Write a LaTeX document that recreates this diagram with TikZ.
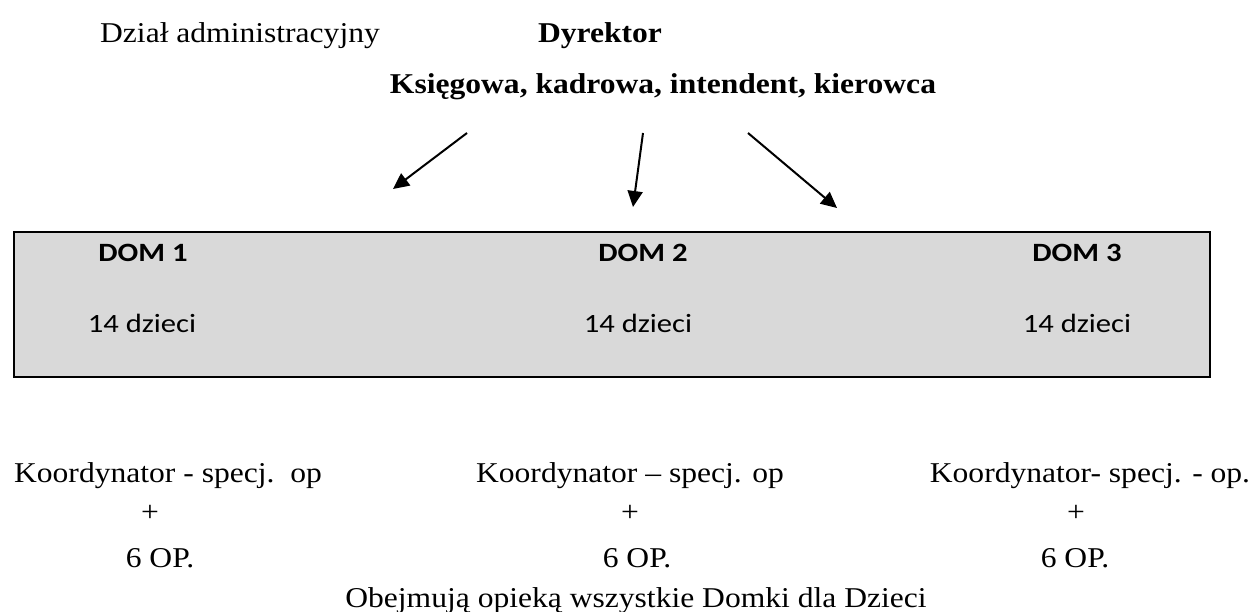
\documentclass[tikz,border=0pt]{standalone}
\usepackage{fontspec}
\setmainfont{Liberation Serif}
\newfontfamily\calfont{Carlito}
\usetikzlibrary{arrows.meta}
\definecolor{boxgray}{HTML}{D9D9D9}
\newcommand{\tnrsize}{\fontsize{28.7}{34}\selectfont}
\newcommand{\calsize}{\calfont\fontsize{26.4}{32}\selectfont}
\newcommand{\sx}[1]{\scalebox{1.1}[1]{#1}}
\newcommand{\sxc}[1]{\scalebox{1.16}[1]{#1}}
\tikzset{
  tlabel/.style={font=\tnrsize, inner sep=0pt, anchor=base},
  dlabel/.style={font=\calsize, inner sep=0pt, anchor=base},
  arr/.style={line width=2pt, -{Triangle[length=16pt,width=15pt]}},
  housebox/.style={draw, line width=2pt, fill=boxgray, inner sep=0pt, anchor=north west}
}
\begin{document}
\begin{tikzpicture}[x=1pt,y=-1pt]
\useasboundingbox (0,0) rectangle (1253,612);
% top texts
\node[tlabel] (dzial) at (240,43) {\sx{Dział administracyjny}};
\node[tlabel] (dyr) at (600,43) {\sx{\bfseries Dyrektor}};
\node[tlabel] (ksieg) at (663,94) {\sx{\bfseries Księgowa, kadrowa, intendent, kierowca}};
% box
\node[housebox, minimum width=1196pt, minimum height=145pt] (box) at (13,231) {};
\node[dlabel] (dom1) at (143,262) {\sxc{\bfseries DOM 1}};
\node[dlabel] (dom2) at (643,262) {\sxc{\bfseries DOM 2}};
\node[dlabel] (dom3) at (1077,262) {\sxc{\bfseries DOM 3}};
\node[dlabel] (dz1) at (142,333) {\sxc{14 dzieci}};
\node[dlabel] (dz2) at (638,333) {\sxc{14 dzieci}};
\node[dlabel] (dz3) at (1077,333) {\sxc{14 dzieci}};
% arrows
\coordinate (a1s) at (467,133); \coordinate (a1e) at (393,189);
\coordinate (a2s) at (643,133); \coordinate (a2e) at (633,207);
\coordinate (a3s) at (748,133); \coordinate (a3e) at (837,208);
\draw[arr] (a1s) -- (a1e);
\draw[arr] (a2s) -- (a2e);
\draw[arr] (a3s) -- (a3e);
% bottom columns
\node[tlabel] (k1) at (168,482) {\sx{Koordynator - specj.\ \ op}};
\node[tlabel] (p1) at (150,521) {\sx{+}};
\node[tlabel] (o1) at (160,567) {\sx{6 OP.}};
\node[tlabel] (k2) at (630,482) {\sx{Koordynator – specj. op}};
\node[tlabel] (p2) at (630,521) {\sx{+}};
\node[tlabel] (o2) at (637,567) {\sx{6 OP.}};
\node[tlabel] (k3) at (1090,482) {\sx{Koordynator- specj. - op.}};
\node[tlabel] (p3) at (1076,521) {\sx{+}};
\node[tlabel] (o3) at (1075,567) {\sx{6 OP.}};
\node[tlabel] (obej) at (636,607) {\sx{Obejmują opieką wszystkie Domki dla Dzieci}};
\end{tikzpicture}
\end{document}
